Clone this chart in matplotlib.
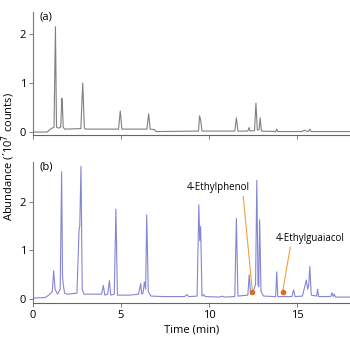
import matplotlib.pyplot as plt

plt.rcParams['font.family'] = ['Open Sans', 'DejaVu Sans']

# (a) reference chromatogram, time (min) vs abundance (x10^7 counts)
time_a = [0, 0.8, 1.0, 1.2, 1.28, 1.34, 1.45, 1.58, 1.64, 1.67, 1.72, 1.8, 2.72, 2.83, 2.92,
          3.0, 4.86, 4.96, 5.05, 6.47, 6.57, 6.66, 6.9, 7.0, 9.4, 9.46, 9.52, 9.6, 11.46,
          11.55, 11.64, 12.2, 12.27, 12.33, 12.58, 12.66, 12.74, 12.84, 12.9, 12.97, 13.78,
          13.84, 13.9, 15.3, 15.4, 15.5, 15.64, 15.72, 15.8, 18]
abund_a = [0.0, 0.0, 0.06, 0.1, 2.15, 0.1, 0.08, 0.1, 0.69, 0.6, 0.1, 0.06, 0.07, 1.0, 0.08,
           0.06, 0.06, 0.43, 0.06, 0.06, 0.37, 0.06, 0.05, 0.01, 0.02, 0.33, 0.25, 0.02, 0.02,
           0.29, 0.02, 0.02, 0.09, 0.02, 0.03, 0.59, 0.04, 0.05, 0.29, 0.02, 0.01,
           0.06, 0.01, 0.01, 0.04, 0.02, 0.01, 0.06, 0.01, 0.01]

# (b) sample chromatogram
time_b = [0, 0.7, 0.9, 1.1, 1.18, 1.26, 1.4, 1.55, 1.63, 1.68, 1.72, 1.8, 1.95, 2.5, 2.62,
          2.66, 2.73, 2.8, 2.9, 3.4, 3.9, 4.0, 4.08, 4.25, 4.34, 4.42, 4.62, 4.71, 4.8,
          5.5, 6.0, 6.12, 6.18, 6.25, 6.33, 6.4, 6.46, 6.55, 6.7, 7.5, 8.6, 8.74, 8.85,
          9.32, 9.42, 9.47, 9.52, 9.6, 9.7, 9.78, 10.6, 10.75, 10.85, 11.46, 11.55, 11.64,
          12.2, 12.28, 12.36, 12.5, 12.64, 12.71, 12.78, 12.82, 12.87, 12.95, 13.1, 13.78,
          13.84, 13.9, 14.7, 14.8, 14.88, 15.3, 15.52, 15.6, 15.66, 15.72, 15.8, 16.1,
          16.16, 16.22, 16.9, 16.98, 17.05, 17.1, 17.18, 18]
abund_b = [0.02, 0.03, 0.08, 0.15, 0.58, 0.2, 0.1, 0.2, 2.62, 0.5, 0.3, 0.12, 0.1, 0.12, 1.42,
           1.5, 2.73, 0.2, 0.1, 0.1, 0.1, 0.28, 0.08, 0.1, 0.38, 0.08, 0.1, 1.85, 0.08,
           0.08, 0.1, 0.32, 0.1, 0.12, 0.35, 0.2, 1.73, 0.15, 0.06, 0.05, 0.05, 0.09, 0.05,
           0.06, 1.94, 1.2, 1.49, 0.06, 0.09, 0.05, 0.04, 0.06, 0.04, 0.05, 1.66, 0.06,
           0.08, 0.5, 0.1, 0.15, 0.3, 2.44, 0.3, 0.25, 1.63, 0.15, 0.06, 0.05,
           0.56, 0.05, 0.05, 0.19, 0.05, 0.06, 0.39, 0.2, 0.3, 0.67, 0.08, 0.06,
           0.2, 0.05, 0.05, 0.13, 0.05, 0.1, 0.04, 0.04]

labels = ['4-Ethylphenol', '4-Ethylguaiacol']
mark_t = [12.46, 14.17]
mark_y = [0.15, 0.14]
line_t = [11.94, 14.61]
line_y = [2.11, 1.07]
text_t = [10.52, 15.72]
text_y = [2.29, 1.24]

fig = plt.figure(figsize=(3.5, 3.38), dpi=100)
ax1 = fig.add_axes([0.094, 0.6006, 0.906, 0.364])
ax2 = fig.add_axes([0.094, 0.1044, 0.906, 0.4163])

ax1.plot(time_a, abund_a, color='#808080', lw=0.8)
ax2.plot(time_b, abund_b, color='#8585d6', lw=0.8)

ax1.set_ylim(-0.06, 2.45)
ax2.set_ylim(-0.076, 2.82)

for ax in (ax1, ax2):
    ax.set_xlim(0, 18)
    ax.set_yticks([0, 1, 2])
    ax.set_xticks([0, 5, 10, 15])
    ax.spines['top'].set_visible(False)
    ax.spines['right'].set_visible(False)
    ax.spines['left'].set_color('#b06060')
    ax.spines['bottom'].set_color('#666666')
    ax.tick_params(length=3, width=0.6, color='#666666', labelsize=8, pad=2)
ax1.set_xticklabels([])

ax1.text(0.4, 2.3, '(a)', fontsize=8)
ax2.text(0.4, 2.66, '(b)', fontsize=8)

for i in range(len(labels)):
    ax2.plot([line_t[i], mark_t[i]], [line_y[i], mark_y[i]], color='#f0a040', lw=0.8)
    ax2.plot(mark_t[i], mark_y[i], 'o', color='#e06a20', ms=3)
    ax2.text(text_t[i], text_y[i], labels[i], fontsize=7, ha='center', va='center')

ax2.set_xlabel('Time (min)', fontsize=8, labelpad=3)
fig.text(0.024, 0.538, 'Abundance (\u00b410$^7$ counts)', rotation=90,
         fontsize=8, ha='center', va='center')

fig.savefig('out.png', dpi=100)
